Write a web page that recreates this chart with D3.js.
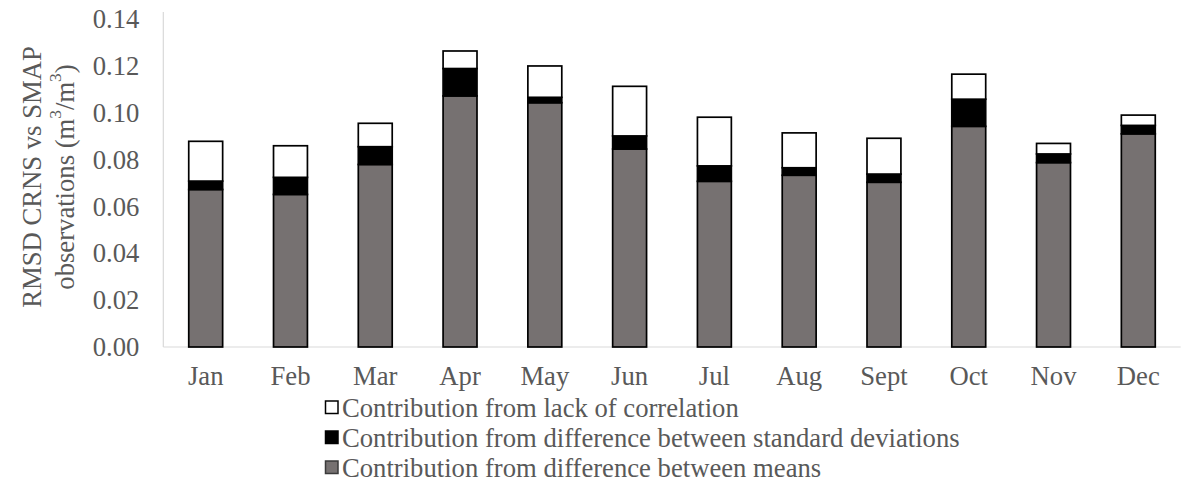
<!DOCTYPE html>
<html>
<head>
<meta charset="utf-8">
<script src="https://cdn.jsdelivr.net/npm/d3@7"></script>
<style>
  html, body { margin: 0; padding: 0; background: #ffffff; }
  svg { display: block; }
</style>
</head>
<body>
<svg id="chart" width="1188" height="482"></svg>
<script>
// Monthly RMSD decomposition (m3/m3)
const months = ["Jan", "Feb", "Mar", "Apr", "May", "Jun", "Jul", "Aug", "Sept", "Oct", "Nov", "Dec"];
const meansDiff = [0.0673, 0.0652, 0.0780, 0.1073, 0.1044, 0.0846, 0.0708, 0.0734, 0.0704, 0.0943, 0.0788, 0.0911];
const stdDiff   = [0.0036, 0.0073, 0.0076, 0.0117, 0.0023, 0.0056, 0.0066, 0.0032, 0.0035, 0.0116, 0.0037, 0.0036];
const lackCorr  = [0.0170, 0.0135, 0.0100, 0.0075, 0.0134, 0.0212, 0.0208, 0.0149, 0.0153, 0.0107, 0.0045, 0.0044];
const yTicks = [0, 0.02, 0.04, 0.06, 0.08, 0.10, 0.12, 0.14];

const seriesKeys = ["means", "std", "corr"];
const seriesNames = {
  corr: "Contribution from lack of correlation",
  std: "Contribution from difference between standard deviations",
  means: "Contribution from difference between means"
};
const seriesFill = { means: "#767171", std: "#000000", corr: "#ffffff" };

const rows = months.map((m, i) => ({ month: m, means: meansDiff[i], std: stdDiff[i], corr: lackCorr[i] }));
const stacked = d3.stack().keys(seriesKeys)(rows);

const FONT = "'Liberation Serif', 'Times New Roman', 'DejaVu Serif', serif";
const TEXT_COLOR = "#595959";
const fontSize = 26.67;

const svg = d3.select("#chart")
  .attr("font-family", FONT)
  .style("font-family", FONT);

const x = d3.scaleBand().domain(months).range([163.3, 1180.7]).padding(0);
const y = d3.scaleLinear().domain([0, 0.14]).range([347, 19.4]);
const barW = x.step() * 0.4;

// value axis line
svg.append("line")
  .attr("x1", x.range()[0]).attr("x2", x.range()[0])
  .attr("y1", 12).attr("y2", y(0))
  .attr("stroke", "#d9d9d9").attr("stroke-width", 1.2);

// category axis line
svg.append("line")
  .attr("x1", x.range()[0]).attr("x2", x.range()[1])
  .attr("y1", y(0)).attr("y2", y(0))
  .attr("stroke", "#d9d9d9").attr("stroke-width", 1.2);

// stacked bars
svg.append("g").selectAll("g")
  .data(stacked)
  .join("g")
  .attr("fill", d => seriesFill[d.key])
  .selectAll("rect")
  .data(d => d)
  .join("rect")
  .attr("x", d => x(d.data.month) + (x.step() - barW) / 2)
  .attr("width", barW)
  .attr("y", d => y(d[1]))
  .attr("height", d => y(d[0]) - y(d[1]))
  .attr("stroke", "#000000")
  .attr("stroke-width", 1.7);

// y tick labels
const yAxis = d3.axisLeft(y).tickValues(yTicks).tickFormat(d3.format(".2f")).tickSize(0).tickPadding(24);
const gy = svg.append("g").attr("transform", `translate(${x.range()[0]},0)`).call(yAxis);
gy.select(".domain").remove();
gy.attr("font-family", FONT).attr("font-size", fontSize);
gy.selectAll("text").style("font-family", FONT).attr("fill", TEXT_COLOR);

// x tick labels
const xAxis = d3.axisBottom(x).tickSize(0).tickPadding(19);
const gx = svg.append("g").attr("transform", `translate(0,${y(0)})`).call(xAxis);
gx.select(".domain").remove();
gx.attr("font-family", FONT).attr("font-size", fontSize);
gx.selectAll("text").style("font-family", FONT).attr("fill", TEXT_COLOR);

// y axis title (two lines)
const title = svg.append("g").attr("transform", "translate(0,177) rotate(-90)")
  .attr("font-size", fontSize).attr("fill", TEXT_COLOR).style("font-family", FONT);
title.append("text")
  .attr("x", 0).attr("y", 32)
  .attr("text-anchor", "middle").attr("dominant-baseline", "central")
  .text("RMSD CRNS vs SMAP");
const t2 = title.append("text")
  .attr("x", 0).attr("y", 65)
  .attr("text-anchor", "middle").attr("dominant-baseline", "central");
t2.append("tspan").text("observations (m");
t2.append("tspan").attr("baseline-shift", "super").attr("font-size", fontSize * 0.65).text("3");
t2.append("tspan").text("/m");
t2.append("tspan").attr("baseline-shift", "super").attr("font-size", fontSize * 0.65).text("3");
t2.append("tspan").text(")");

// legend
const legendOrder = ["corr", "std", "means"];
const legendY = [407, 437, 467];
const lg = svg.append("g")
  .attr("font-size", fontSize).attr("fill", TEXT_COLOR).style("font-family", FONT)
  .selectAll("g")
  .data(legendOrder)
  .join("g")
  .attr("transform", (d, i) => `translate(325,${legendY[i]})`);
lg.append("rect")
  .attr("x", 0.5).attr("y", -6)
  .attr("width", 12.5).attr("height", 12.5)
  .attr("fill", d => seriesFill[d])
  .attr("stroke", d => d === "means" ? "#3a3a3a" : "#000000")
  .attr("stroke-width", 1.5);
lg.append("text")
  .attr("x", 17).attr("y", 1)
  .attr("dominant-baseline", "central")
  .text(d => seriesNames[d]);
</script>
</body>
</html>
